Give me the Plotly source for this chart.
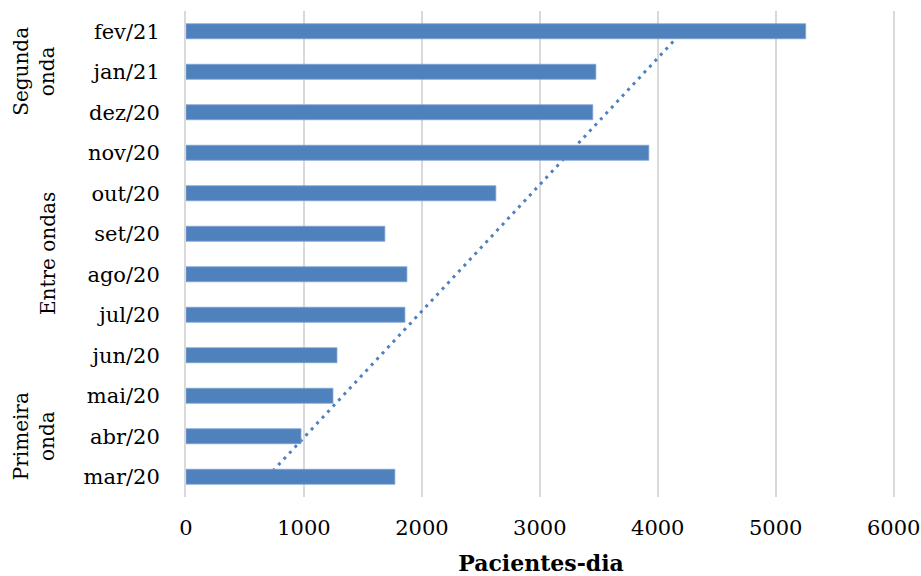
import numpy as np
import plotly.graph_objects as go

months = ["mar/20", "abr/20", "mai/20", "jun/20", "jul/20", "ago/20",
          "set/20", "out/20", "nov/20", "dez/20", "jan/21", "fev/21"]
patients_day = [1771, 975, 1246, 1280, 1856, 1873, 1686, 2627, 3924, 3449, 3475, 5254]
x_ticks = [0, 1000, 2000, 3000, 4000, 5000, 6000]
groups = ["Primeira<br>onda", "Entre ondas", "Segunda<br>onda"]
group_members = [["mar/20", "abr/20", "mai/20"],
                 ["jun/20", "jul/20", "ago/20", "set/20", "out/20", "nov/20"],
                 ["dez/20", "jan/21", "fev/21"]]

FONT = "DejaVu Serif"
BLUE = "#4F81BD"

# linear trendline (least squares over category index)
idx = np.arange(len(months))
slope, intercept = np.polyfit(idx, np.array(patients_day, dtype=float), 1)
trend_start = intercept + slope * idx[0]
trend_end = intercept + slope * idx[-1]

fig = go.Figure()
fig.add_trace(go.Bar(
    x=patients_day, y=months, orientation="h",
    marker=dict(color=BLUE, line=dict(color="#7FA3D3", width=0.8)),
    showlegend=False,
))

fig.add_shape(type="line", xref="x", yref="y",
              x0=trend_start, y0=months[0], x1=trend_end, y1=months[-1],
              line=dict(color=BLUE, width=3, dash="3px,5px"), layer="between")

L, R, T, B = 186, 25, 11, 79
W, H = 921, 576
pw = W - L - R
ph = H - T - B

# group labels (rotated), positioned at the middle of their categories
n = len(months)
group_x_px = [34, 48, 34]
for label, members, gx in zip(groups, group_members, group_x_px):
    ids = [months.index(m) for m in members]
    center = (min(ids) + max(ids)) / 2
    ypaper = (center + 0.5) / n
    fig.add_annotation(text=label, xref="paper", yref="paper",
                       x=(gx - L) / pw, y=ypaper, textangle=-90,
                       showarrow=False, xanchor="center", yanchor="middle",
                       font=dict(family=FONT, size=20, color="#000000"))

fig.update_layout(
    width=W, height=H,
    margin=dict(l=L, r=R, t=T, b=B, autoexpand=False),
    paper_bgcolor="white", plot_bgcolor="white",
    bargap=0.63,
    font=dict(family=FONT, size=21, color="#000000"),
    xaxis=dict(
        range=[0, 6020], tickvals=x_ticks, ticktext=[str(v) for v in x_ticks],
        showgrid=True, gridcolor="#D9D9D9", gridwidth=2,
        zeroline=False, showline=False, automargin=False,
        ticks="outside", ticklen=12, tickcolor="rgba(0,0,0,0)",
        tickfont=dict(family=FONT, size=21),
        title=dict(text="<b>Pacientes-dia</b>", font=dict(family=FONT, size=22),
                   standoff=18),
    ),
    yaxis=dict(
        categoryorder="array", categoryarray=months,
        range=[-0.5, n - 0.5], automargin=False,
        showgrid=False, zeroline=False,
        showline=True, linecolor="#D9D9D9", linewidth=2,
        ticks="outside", ticklen=20, tickcolor="rgba(0,0,0,0)",
        tickfont=dict(family=FONT, size=21),
    ),
)

fig.write_html("out.html")
